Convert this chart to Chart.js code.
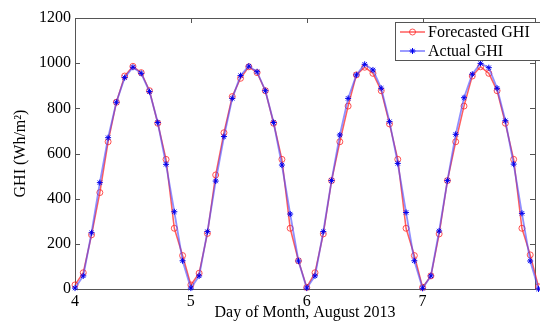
<!DOCTYPE html>
<html>
<head>
<meta charset="utf-8">
<script src="https://cdn.jsdelivr.net/npm/chart.js@4.4.1/dist/chart.umd.min.js"></script>
<style>
  html, body { margin: 0; padding: 0; background: #fff; }
  #wrap { width: 540px; height: 323px; }
</style>
</head>
<body>
<div id="wrap"><canvas id="ghi-chart"></canvas></div>
<script>
// x = day of month, 14 samples per day
const dayStart = 4;
const samplesPerDay = 14;
const xTicks = [4, 5, 6, 7];
const yTicks = [0, 200, 400, 600, 800, 1000, 1200];

const forecastedGHI = [
  18, 72, 240, 427, 652, 827, 943, 986, 958, 878, 734, 574, 269, 148,
  18, 70, 246, 505, 692, 852, 933, 984, 958, 878, 734, 574, 269, 125,
  7, 72, 244, 480, 652, 810, 948, 982, 955, 878, 731, 574, 269, 148,
  7, 58, 244, 480, 652, 810, 943, 984, 955, 878, 734, 574, 269, 151,
  10
];
const actualGHI = [
  4, 58, 249, 471, 670, 827, 936, 982, 955, 874, 737, 552, 342, 125,
  4, 58, 254, 478, 675, 844, 945, 987, 962, 878, 737, 549, 332, 124,
  4, 58, 254, 480, 682, 844, 948, 995, 970, 889, 741, 556, 339, 125,
  3, 58, 257, 480, 685, 847, 951, 999, 980, 889, 745, 553, 335, 124,
  0
];

const toPoints = (arr) => arr.map((v, i) => ({ x: dayStart + i / samplesPerDay, y: v }));

const font = { family: "'Liberation Serif', 'Times New Roman', serif", size: 16 };

// box + inward ticks like matlab
const matlabAxes = {
  id: 'matlabAxes',
  beforeDatasetsDraw(chart) {
    const { ctx, chartArea: a, scales: { x, y } } = chart;
    const len = 5;
    ctx.save();
    ctx.strokeStyle = '#555';
    ctx.lineWidth = 1;
    ctx.strokeRect(a.left + 0.5, a.top + 0.5, a.right - a.left, a.bottom - a.top);
    ctx.beginPath();
    xTicks.forEach(v => {
      const px = Math.round(x.getPixelForValue(v)) + 0.5;
      ctx.moveTo(px, a.bottom); ctx.lineTo(px, a.bottom - len);
      ctx.moveTo(px, a.top); ctx.lineTo(px, a.top + len);
    });
    yTicks.forEach(v => {
      const py = Math.round(y.getPixelForValue(v)) + 0.5;
      ctx.moveTo(a.left, py); ctx.lineTo(a.left + len, py);
      ctx.moveTo(a.right, py); ctx.lineTo(a.right - len, py);
    });
    ctx.stroke();
    ctx.restore();
  }
};

const boxLegend = {
  id: 'boxLegend',
  afterDraw(chart) {
    const { ctx } = chart;
    const left = 395, top = 22, w = 150, h = 38;
    ctx.save();
    ctx.fillStyle = '#fff';
    ctx.fillRect(left, top, w, h);
    ctx.strokeStyle = '#555';
    ctx.lineWidth = 1;
    ctx.strokeRect(left + 0.5, top + 0.5, w, h);
    ctx.font = `${font.size}px ${font.family}`;
    ctx.textBaseline = 'middle';
    chart.data.datasets.forEach((ds, i) => {
      const yy = top + 10 + i * 19;
      ctx.strokeStyle = ds.borderColor;
      ctx.lineWidth = ds.borderWidth;
      ctx.beginPath();
      ctx.moveTo(left + 5, yy); ctx.lineTo(left + 30, yy);
      ctx.stroke();
      ctx.strokeStyle = ds.pointBorderColor;
      ctx.fillStyle = ds.pointBackgroundColor;
      ctx.lineWidth = ds.pointBorderWidth;
      Chart.helpers.drawPoint(ctx, { pointStyle: ds.pointStyle, radius: ds.pointRadius, rotation: 0, borderWidth: ds.pointBorderWidth }, left + 17.5, yy);
      ctx.fillStyle = '#000';
      ctx.fillText(ds.label, left + 33, yy + 1);
    });
    ctx.restore();
  }
};

const ctx = document.getElementById('ghi-chart').getContext('2d');
new Chart(ctx, {
  type: 'line',
  data: {
    datasets: [
      {
        label: 'Forecasted GHI',
        data: toPoints(forecastedGHI),
        borderColor: 'rgba(255, 40, 40, 0.75)',
        borderWidth: 1.5,
        pointStyle: 'circle',
        pointRadius: 3,
        pointBorderWidth: 1,
        pointBorderColor: 'rgba(255, 40, 40, 0.8)',
        pointBackgroundColor: 'rgba(255, 255, 255, 0)',
        order: 1,
        clip: 5,
      },
      {
        label: 'Actual GHI',
        data: toPoints(actualGHI),
        borderColor: 'rgba(70, 70, 255, 0.6)',
        borderWidth: 1.8,
        pointStyle: 'star',
        pointRadius: 3,
        pointBorderWidth: 1,
        pointBorderColor: '#0000ee',
        pointBackgroundColor: '#0000ee',
        order: 0,
        clip: 5,
      },
    ],
  },
  options: {
    responsive: true,
    maintainAspectRatio: false,
    animation: false,
    layout: { padding: { top: 18, right: 0, left: 0, bottom: 0 } },
    plugins: {
      legend: { display: false },
      tooltip: { enabled: false },
    },
    elements: { line: { tension: 0 } },
    scales: {
      x: {
        type: 'linear',
        min: 4,
        max: 7.97,
        afterBuildTicks: (s) => { s.ticks = xTicks.map(v => ({ value: v })); },
        afterFit: (s) => { s.height = 34; },
        grid: { display: false, drawTicks: false },
        border: { display: false },
        ticks: { font, color: '#000', padding: 3, maxRotation: 0, autoSkip: false, callback: (v) => String(v) },
        title: {
          display: true,
          text: 'Day of Month, August 2013',
          font, color: '#000',
          padding: { top: 0, bottom: 1 },
        },
      },
      y: {
        min: 0,
        max: 1200,
        afterBuildTicks: (s) => { s.ticks = yTicks.map(v => ({ value: v })); },
        afterFit: (s) => { s.width = 75; },
        grid: { display: false, drawTicks: false },
        border: { display: false },
        ticks: { font, color: '#000', padding: 4, callback: (v) => String(v) },
        title: {
          display: true,
          text: 'GHI (Wh/m²)',
          font, color: '#000',
          padding: { top: 11, bottom: 0 },
        },
      },
    },
  },
  plugins: [matlabAxes, boxLegend],
});
</script>
</body>
</html>
